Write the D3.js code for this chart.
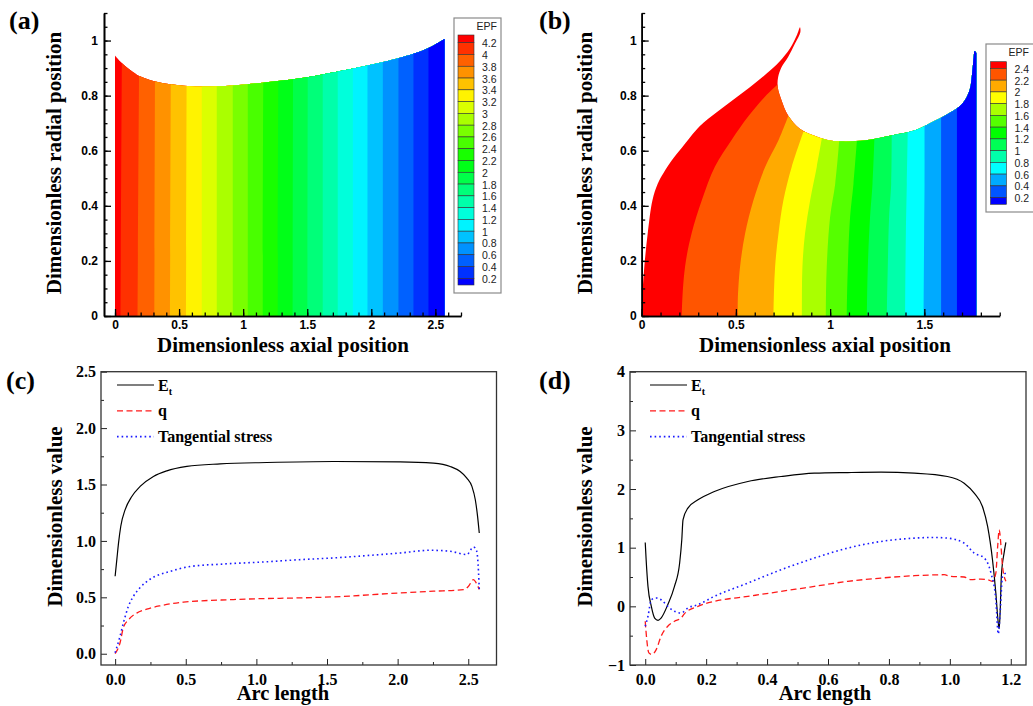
<!DOCTYPE html>
<html>
<head>
<meta charset="utf-8">
<script src="https://cdn.jsdelivr.net/npm/d3@7"></script>
<style>
  body { margin: 0; background: #fff; }
  svg { display: block; }
</style>
</head>
<body>
<svg id="fig" width="1033" height="706"></svg>
<script>
// ---------- panel (a): EPF contour, wide domain ----------
var epfA_levels = [4.2, 4, 3.8, 3.6, 3.4, 3.2, 3, 2.8, 2.6, 2.4, 2.2, 2, 1.8, 1.6, 1.4, 1.2, 1, 0.8, 0.6, 0.4, 0.2];
// axial position of each level line at the wall (bottom) and at the free surface (top)
var epfA_xBottom = [0.043, 0.176, 0.307, 0.429, 0.554, 0.677, 0.794, 0.919, 1.036, 1.153, 1.270, 1.386, 1.501, 1.621, 1.738, 1.856, 1.970, 2.090, 2.212, 2.329, 2.446];
var epfA_xTop    = [0.055, 0.190, 0.313, 0.437, 0.560, 0.677, 0.794, 0.919, 1.036, 1.158, 1.275, 1.390, 1.505, 1.621, 1.738, 1.856, 1.970, 2.090, 2.212, 2.329, 2.446];
var surfA_x = [0, 0.039, 0.091, 0.143, 0.195, 0.299, 0.403, 0.533, 0.664, 0.923, 1.184, 1.444, 1.809, 2.069, 2.329, 2.459, 2.571];
var surfA_y = [0.946, 0.925, 0.903, 0.885, 0.87, 0.853, 0.843, 0.836, 0.833, 0.837, 0.849, 0.863, 0.894, 0.919, 0.952, 0.976, 1.006];

// ---------- panel (b): EPF contour, notched domain ----------
var epfB_levels = [2.4, 2.2, 2, 1.8, 1.6, 1.4, 1.2, 1, 0.8, 0.6, 0.4, 0.2];
var epfB_lines = [
  [[0.212, 0], [0.23, 0.179], [0.265, 0.3], [0.319, 0.42], [0.389, 0.543], [0.478, 0.64], [0.566, 0.725], [0.655, 0.797], [0.726, 0.843]],
  [[0.51, 0], [0.51, 0.058], [0.522, 0.179], [0.549, 0.3], [0.593, 0.42], [0.655, 0.541], [0.726, 0.638], [0.779, 0.728]],
  [[0.699, 0], [0.708, 0.179], [0.726, 0.3], [0.752, 0.42], [0.796, 0.541], [0.858, 0.668]],
  [[0.85, 0], [0.853, 0.179], [0.867, 0.3], [0.894, 0.42], [0.929, 0.541], [0.956, 0.644]],
  [[0.977, 0], [0.982, 0.179], [1.0, 0.36], [1.027, 0.48], [1.048, 0.634]],
  [[1.088, 0], [1.094, 0.179], [1.106, 0.36], [1.124, 0.48], [1.142, 0.635]],
  [[1.195, 0], [1.2, 0.179], [1.212, 0.36], [1.225, 0.48], [1.235, 0.644]],
  [[1.301, 0], [1.306, 0.179], [1.313, 0.36], [1.324, 0.48], [1.327, 0.656]],
  [[1.398, 0], [1.402, 0.3], [1.407, 0.48], [1.412, 0.668]],
  [[1.496, 0], [1.499, 0.3], [1.501, 0.48], [1.501, 0.688]],
  [[1.589, 0], [1.589, 0.3], [1.589, 0.72]],
  [[1.673, 0], [1.673, 0.3], [1.673, 0.75]]
];
var shapeB = [[0, 0], [0.004, 0.08], [0.014, 0.18], [0.032, 0.3], [0.057, 0.42], [0.085, 0.48], [0.115, 0.518], [0.16, 0.565],
  [0.212, 0.61], [0.309, 0.69], [0.398, 0.74], [0.486, 0.785], [0.574, 0.83], [0.663, 0.88], [0.733, 0.925], [0.786, 0.97],
  [0.825, 1.022], [0.84, 1.048], [0.842, 1.03], [0.813, 0.988], [0.777, 0.94], [0.742, 0.903], [0.724, 0.867], [0.722, 0.831],
  [0.742, 0.783], [0.777, 0.728], [0.839, 0.68], [0.91, 0.656], [0.981, 0.64], [1.06, 0.634], [1.19, 0.638], [1.33, 0.656],
  [1.45, 0.674], [1.53, 0.70], [1.635, 0.738], [1.70, 0.77], [1.74, 0.82], [1.755, 0.89], [1.762, 0.94], [1.767, 0.962],
  [1.776, 0.955]];

// ---------- panel (c): values along arc ----------
var c_Et_s = [0, 0.012, 0.024, 0.04, 0.071, 0.118, 0.177, 0.271, 0.366, 0.508, 0.744, 1.074, 1.546, 2.018, 2.254, 2.372, 2.443, 2.49, 2.526, 2.55, 2.566, 2.578];
var c_Et_v = [0.687, 0.834, 0.98, 1.13, 1.277, 1.394, 1.483, 1.571, 1.621, 1.66, 1.683, 1.695, 1.704, 1.701, 1.689, 1.66, 1.615, 1.557, 1.483, 1.365, 1.218, 1.07];
var c_q_s = [0, 0.035, 0.058, 0.094, 0.153, 0.224, 0.319, 0.484, 0.838, 1.0, 1.31, 1.546, 2.018, 2.254, 2.467, 2.502, 2.537, 2.556, 2.578];
var c_q_v = [0, 0.097, 0.23, 0.3, 0.36, 0.395, 0.425, 0.457, 0.48, 0.487, 0.495, 0.504, 0.539, 0.554, 0.569, 0.598, 0.657, 0.628, 0.569];
var c_tan_s = [0, 0.035, 0.058, 0.094, 0.13, 0.176, 0.247, 0.39, 0.53, 0.766, 1.074, 1.31, 1.546, 1.782, 2.018, 2.23, 2.372, 2.49, 2.537, 2.56, 2.573, 2.578];
var c_tan_v = [0.009, 0.156, 0.27, 0.42, 0.51, 0.585, 0.66, 0.73, 0.773, 0.795, 0.815, 0.834, 0.849, 0.87, 0.893, 0.917, 0.908, 0.879, 0.946, 0.908, 0.716, 0.569];
var c_xTicks = [0, 0.5, 1, 1.5, 2, 2.5];
var c_yTicks = [0, 0.5, 1, 1.5, 2, 2.5];

// ---------- panel (d) ----------
var d_Et_s = [0, 0.003, 0.009, 0.02, 0.031, 0.042, 0.052, 0.074, 0.096, 0.113, 0.12, 0.124, 0.14, 0.173, 0.227, 0.337, 0.446, 0.555, 0.665, 0.774, 0.883, 0.992, 1.047, 1.08, 1.107, 1.124, 1.14, 1.151, 1.159, 1.162, 1.165, 1.169, 1.178, 1.184];
var d_Et_v = [1.089, 0.794, 0.34, 0.0, -0.2, -0.238, -0.2, 0.028, 0.34, 0.738, 1.135, 1.475, 1.674, 1.816, 1.957, 2.128, 2.213, 2.27, 2.281, 2.287, 2.27, 2.213, 2.099, 1.929, 1.702, 1.362, 0.794, 0.227, -0.284, -0.38, -0.113, 0.51, 0.908, 1.089];
var d_q_s = [0, 0.005, 0.012, 0.022, 0.036, 0.052, 0.074, 0.096, 0.118, 0.129, 0.173, 0.227, 0.337, 0.446, 0.555, 0.665, 0.774, 0.883, 0.981, 1.003, 1.047, 1.069, 1.102, 1.124, 1.14, 1.151, 1.157, 1.162, 1.168, 1.173, 1.184];
var d_q_v = [-0.255, -0.567, -0.794, -0.823, -0.738, -0.511, -0.34, -0.255, -0.199, -0.125, 0.0, 0.085, 0.17, 0.255, 0.34, 0.426, 0.482, 0.522, 0.539, 0.511, 0.5, 0.454, 0.465, 0.454, 0.426, 0.567, 1.021, 1.305, 1.021, 0.681, 0.426];
var d_tan_s = [0, 0.009, 0.02, 0.036, 0.052, 0.074, 0.096, 0.118, 0.14, 0.173, 0.227, 0.337, 0.446, 0.555, 0.665, 0.774, 0.883, 0.948, 0.992, 1.047, 1.08, 1.113, 1.135, 1.151, 1.159, 1.165, 1.173, 1.184];
var d_tan_v = [-0.34, -0.17, 0.113, 0.142, 0.113, 0.0, -0.085, -0.113, -0.028, 0.028, 0.17, 0.397, 0.624, 0.823, 0.993, 1.106, 1.163, 1.174, 1.163, 1.078, 0.908, 0.823, 0.567, 0.113, -0.47, -0.113, 0.51, 0.567];
var d_xTicks = [0, 0.2, 0.4, 0.6, 0.8, 1.0, 1.2];
var d_yTicks = [-1, 0, 1, 2, 3, 4];

var legendNames = ["E", "q", "Tangential stress"];

var SERIF = "'Liberation Serif','Times New Roman',serif";
var SANS = "'Liberation Sans',Arial,sans-serif";

var svg = d3.select("#fig");
var defs = svg.append("defs");

function zip(a, b) { return a.map(function(v, i) { return [v, b[i]]; }); }

// ----- contour panel -----
function drawContour(p) {
  var x = d3.scaleLinear().domain(p.xDomain).range(p.xRange);
  var y = d3.scaleLinear().domain([0, 1.1]).range([316, 13]);
  var g = svg.append("g");
  var smooth = d3.line().x(function(d) { return x(d[0]); }).y(function(d) { return y(d[1]); })
    .curve(d3.curveCatmullRom.alpha(0.5));

  // domain outline: curved part, then straight right edge and wall
  var last = p.shape[p.shape.length - 1];
  var outline = "M" + x(0) + "," + y(0) + smooth(p.shape).replace(/^M/, "L") +
    "L" + x(last[0]) + "," + y(0) + "Z";
  defs.append("clipPath").attr("id", "clip-" + p.id).append("path").attr("d", outline);

  var nb = p.levels.length + 1;
  var color = function(i) { return d3.hsl(240 * i / (nb - 1), 1, 0.5).toString(); };
  var field = g.append("g").attr("clip-path", "url(#clip-" + p.id + ")");
  field.append("rect").attr("x", x(-1)).attr("y", y(1.4)).attr("width", x(9) - x(-1)).attr("height", y(-0.2) - y(1.4))
    .attr("fill", color(0));
  // each band paints everything right of its level line
  p.lines.forEach(function(b, i) {
    var e = b[b.length - 1], ex = Math.max(e[0], p.notchX);
    var d = smooth([[b[0][0], -0.2]].concat(b)) +
      "L" + x(ex) + "," + y(e[1]) + "L" + x(ex) + "," + y(1.4) +
      "L" + x(9) + "," + y(1.4) + "L" + x(9) + "," + y(-0.2) + "Z";
    field.append("path").attr("d", d).attr("fill", color(i + 1));
  });

  // axes, ticks inward
  var yMinor = d3.range(0, 23).map(function(i) { return i * 0.05; });
  var yMajor = [0, 0.2, 0.4, 0.6, 0.8, 1];
  var xMinor = d3.range(0, p.nxMinor).map(function(i) { return i * 0.1; });
  var left = x(p.xDomain[0]);

  function style(s, size) {
    s.attr("color", "#000").attr("font-family", SANS).attr("font-size", size).attr("font-weight", "bold");
    s.selectAll(".tick line").attr("stroke-width", 1.3);
    s.select(".domain").attr("stroke-width", 1.6);
  }
  g.append("g").attr("transform", "translate(" + left + ",0)")
    .call(d3.axisLeft(y).tickValues(yMinor).tickSize(-3.5).tickSizeOuter(0).tickFormat(""))
    .call(style, 12);
  g.append("g").attr("transform", "translate(" + left + ",0)")
    .call(d3.axisLeft(y).tickValues(yMajor).tickSize(-7).tickSizeOuter(0).tickPadding(p.yPad).tickFormat(d3.format("~g")))
    .call(style, 12);
  g.append("g").attr("transform", "translate(0," + y(0) + ")")
    .call(d3.axisBottom(x).tickValues(xMinor).tickSize(-3.5).tickSizeOuter(0).tickFormat(""))
    .call(style, 12);
  g.append("g").attr("transform", "translate(0," + y(0) + ")")
    .call(d3.axisBottom(x).tickValues(p.xMajor).tickSize(-7).tickSizeOuter(0).tickPadding(4.5).tickFormat(d3.format("~g")))
    .call(style, 12);

  // titles
  g.append("text").attr("x", p.xTitleX).attr("y", 352).attr("text-anchor", "middle")
    .attr("font-family", SERIF).attr("font-weight", "bold").attr("font-size", 21)
    .text("Dimensionless axial position");
  g.append("text").attr("transform", "translate(" + p.yTitleX + ",163) rotate(-90)").attr("text-anchor", "middle")
    .attr("font-family", SERIF).attr("font-weight", "bold").attr("font-size", 21)
    .text("Dimensionless radial position");

  // colour bar
  var cb = p.bar;
  var cg = g.append("g");
  cg.append("rect").attr("x", cb.x).attr("y", cb.y).attr("width", cb.w).attr("height", cb.h)
    .attr("fill", "#fff").attr("stroke", "#8a8a8a").attr("stroke-width", 1.2);
  cg.append("text").attr("x", cb.tx).attr("y", cb.y + 12).attr("text-anchor", "end")
    .attr("font-family", SANS).attr("font-size", 10.5).attr("fill", "#222").text("EPF");
  var ly = d3.scaleLinear().domain([0, p.levels.length - 1]).range([cb.l0, cb.l1]);
  d3.range(nb).forEach(function(i) {
    var y0 = i === 0 ? cb.s0 : ly(i - 1);
    var y1 = i === nb - 1 ? cb.s1 : ly(i);
    cg.append("rect").attr("x", cb.sx).attr("y", y0).attr("width", 16).attr("height", y1 - y0)
      .attr("fill", color(i)).attr("stroke", "#333").attr("stroke-width", 0.6);
  });
  cg.selectAll("text.lev").data(p.levels).enter().append("text").attr("class", "lev")
    .attr("x", cb.sx + 24).attr("y", function(d, i) { return ly(i) + 4.5; })
    .attr("font-family", SANS).attr("font-size", 10.5).attr("fill", "#222")
    .text(function(d) { return d; });

  g.append("text").attr("x", p.labelX).attr("y", 29).attr("font-family", SERIF).attr("font-weight", "bold")
    .attr("font-size", 26).text(p.label);
}

drawContour({
  id: "a", label: "(a)", labelX: 9,
  xDomain: [-0.086, 2.7], xRange: [104, 461], xMajor: [0, 0.5, 1, 1.5, 2, 2.5], nxMinor: 28, yPad: 6,
  levels: epfA_levels,
  lines: epfA_xBottom.map(function(xb, i) { return [[xb, 0], [epfA_xTop[i], 1.05]]; }),
  shape: zip(surfA_x, surfA_y),
  notchX: 0,
  xTitleX: 283, yTitleX: 61,
  bar: { x: 454, y: 18, w: 47, h: 275, tx: 497, sx: 458, s0: 35, s1: 285, l0: 42.7, l1: 278.3 }
});
drawContour({
  id: "b", label: "(b)", labelX: 539,
  xDomain: [0, 1.9], xRange: [641.7, 999.7], xMajor: [0, 0.5, 1, 1.5], nxMinor: 20, yPad: 5,
  levels: epfB_levels,
  lines: epfB_lines,
  shape: shapeB,
  notchX: 0.9,
  xTitleX: 825, yTitleX: 592,
  bar: { x: 986, y: 44, w: 60, h: 168, tx: 1029, sx: 990.5, s0: 61.7, s1: 204.3, l0: 68.4, l1: 197.6 }
});

// ----- line panels -----
function drawLines(p) {
  var x = d3.scaleLinear().domain(p.xDomain).range([p.left, p.right]);
  var y = d3.scaleLinear().domain(p.yDomain).range([665, 371.7]);
  var g = svg.append("g");

  function style(s) {
    s.attr("color", "#222").attr("font-family", SERIF).attr("font-size", 16).attr("font-weight", "bold");
    s.selectAll("text").attr("fill", "#000");
    s.select(".domain").remove();
  }
  g.append("g").attr("transform", "translate(0,665)")
    .call(d3.axisBottom(x).tickValues(p.xMinor).tickSize(-3).tickFormat(""))
    .call(style);
  g.append("g").attr("transform", "translate(0,665)")
    .call(d3.axisBottom(x).tickValues(p.xTicks).tickSize(-6).tickPadding(8.5).tickFormat(d3.format(p.xFmt)))
    .call(style);
  g.append("g").attr("transform", "translate(" + p.left + ",0)")
    .call(d3.axisLeft(y).tickValues(p.yMinor).tickSize(-3).tickFormat(""))
    .call(style);
  g.append("g").attr("transform", "translate(" + p.left + ",0)")
    .call(d3.axisLeft(y).tickValues(p.yTicks).tickSize(-6).tickPadding(5).tickFormat(d3.format(p.yFmt)))
    .call(style);

  g.append("rect").attr("x", p.left).attr("y", 371.7).attr("width", p.right - p.left).attr("height", 665 - 371.7)
    .attr("fill", "none").attr("stroke", "#333").attr("stroke-width", 1.3);

  var line = d3.line().x(function(d) { return x(d[0]); }).y(function(d) { return y(d[1]); }).curve(d3.curveMonotoneX);
  var styles = [
    { stroke: "#000", dash: null, w: 1.2 },
    { stroke: "#ff1a1a", dash: "6,3.5", w: 1.3 },
    { stroke: "#1a1aff", dash: "1.6,3", w: 1.6 }
  ];
  p.series.forEach(function(s, i) {
    g.append("path").attr("d", line(s)).attr("fill", "none")
      .attr("stroke", styles[i].stroke).attr("stroke-width", styles[i].w)
      .attr("stroke-dasharray", styles[i].dash);
  });

  // legend
  legendNames.forEach(function(name, i) {
    var ly = 385 + i * 25.8;
    g.append("line").attr("x1", p.legX).attr("x2", p.legX + 37).attr("y1", ly).attr("y2", ly)
      .attr("stroke", styles[i].stroke).attr("stroke-width", styles[i].w).attr("stroke-dasharray", styles[i].dash);
    var t = g.append("text").attr("x", p.legX + 41).attr("y", ly + 5.5).attr("font-family", SERIF)
      .attr("font-weight", "bold").attr("font-size", 16).text(name);
    if (i === 0) t.append("tspan").attr("font-size", 10).attr("dy", 4).text("t");
  });

  g.append("text").attr("x", p.xTitleX).attr("y", 700).attr("text-anchor", "middle")
    .attr("font-family", SERIF).attr("font-weight", "bold").attr("font-size", 20.5).text("Arc length");
  g.append("text").attr("transform", "translate(" + p.yTitleX + ",516.5) rotate(-90)").attr("text-anchor", "middle")
    .attr("font-family", SERIF).attr("font-weight", "bold").attr("font-size", 21).text("Dimensionless value");
  g.append("text").attr("x", p.labelX).attr("y", 389).attr("font-family", SERIF).attr("font-weight", "bold")
    .attr("font-size", 26).text(p.label);
}

drawLines({
  label: "(c)", labelX: 6, left: 101, right: 496.5, yTitleX: 61.5, xTitleX: 283, legX: 117,
  xDomain: [-0.1, 2.7], yDomain: [-0.1, 2.5],
  xTicks: c_xTicks, xMinor: [0.25, 0.75, 1.25, 1.75, 2.25], xFmt: ".1f",
  yTicks: c_yTicks, yMinor: [0.25, 0.75, 1.25, 1.75, 2.25], yFmt: ".1f",
  series: [zip(c_Et_s, c_Et_v), zip(c_q_s, c_q_v), zip(c_tan_s, c_tan_v)]
});
drawLines({
  label: "(d)", labelX: 539, left: 630, right: 1026, yTitleX: 592, xTitleX: 825, legX: 650,
  xDomain: [-0.05, 1.25], yDomain: [-1, 4],
  xTicks: d_xTicks, xMinor: [0.1, 0.3, 0.5, 0.7, 0.9, 1.1], xFmt: ".1f",
  yTicks: d_yTicks, yMinor: [-0.5, 0.5, 1.5, 2.5, 3.5], yFmt: "d",
  series: [zip(d_Et_s, d_Et_v), zip(d_q_s, d_q_v), zip(d_tan_s, d_tan_v)]
});
</script>
</body>
</html>
